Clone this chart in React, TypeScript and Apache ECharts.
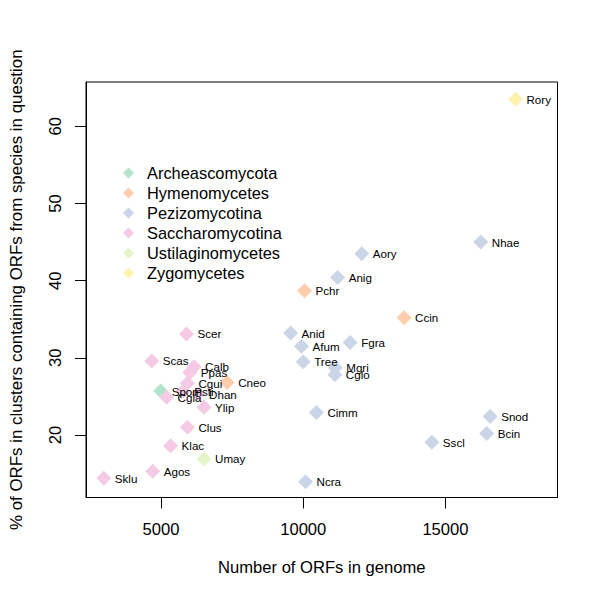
import React, { useEffect, useRef } from "react";
import * as echarts from "echarts";

const groups = [
  "Archeascomycota",
  "Hymenomycetes",
  "Pezizomycotina",
  "Saccharomycotina",
  "Ustilaginomycetes",
  "Zygomycetes",
];
const groupColors = ["#B3E2CD", "#FDCDAC", "#CBD5E8", "#F4CAE4", "#E6F5C9", "#FFF2AE"];

const species = [
  "Spom", "Pchr", "Ccin", "Cneo",
  "Nhae", "Aory", "Anig", "Anid", "Afum", "Fgra", "Tree", "Mgri", "Cglo", "Cimm", "Snod", "Bcin", "Sscl", "Ncra",
  "Scer", "Scas", "Calb", "Ppas", "Cgui", "Psti", "Cgla", "Dhan", "Ylip", "Clus", "Klac", "Agos", "Sklu",
  "Umay", "Rory",
];
const speciesGroup = [
  0, 1, 1, 1,
  2, 2, 2, 2, 2, 2, 2, 2, 2, 2, 2, 2, 2, 2,
  3, 3, 3, 3, 3, 3, 3, 3, 3, 3, 3, 3, 3,
  4, 5,
];
const orfCounts = [
  4986, 10044, 13546, 7323,
  16242, 12056, 11209, 9555, 9939, 11648, 9998, 11125, 11110, 10462, 16573, 16451, 14522, 10079,
  5893, 4672, 6161, 6012, 5928, 5778, 5195, 6301, 6510, 5928, 5335, 4707, 2987,
  6510, 17463,
];
const pctClustered = [
  25.7, 38.7, 35.2, 26.8,
  45.0, 43.5, 40.4, 33.2, 31.5, 32.0, 29.5, 28.7, 27.8, 22.9, 22.4, 20.2, 19.05, 13.95,
  33.1, 29.6, 28.85, 28.1, 26.7, 25.7, 24.9, 25.3, 23.6, 21.0, 18.6, 15.3, 14.4,
  16.9, 63.5,
];
const xTicks = [5000, 10000, 15000];
const yTicks = [20, 30, 40, 50, 60];

const FONT = "Liberation Sans, Arial, Helvetica, sans-serif";

export default function App() {
  const ref = useRef<HTMLDivElement>(null);
  useEffect(() => {
    if (!ref.current) return;
    const chart = echarts.init(ref.current, null, { renderer: "svg" });
    const series = groups.map((g, gi) => ({
      name: g,
      type: "scatter",
      symbol: "diamond",
      symbolSize: 15,
      itemStyle: { color: groupColors[gi], opacity: 1 },
      label: {
        show: true,
        position: "right",
        distance: 3.5,
        color: "#000",
        fontSize: 11.6,
        fontFamily: FONT,
        formatter: (p: any) => p.value[2],
      },
      data: species
        .map((s, i) => ({ s, i }))
        .filter(({ i }) => speciesGroup[i] === gi)
        .map(({ s, i }) => [orfCounts[i], pctClustered[i], s]),
    }));
    chart.setOption({
      animation: false,
      backgroundColor: "#fff",
      grid: {
        left: 82,
        top: 82,
        right: 42.5,
        bottom: 102.5,
        show: true,
        borderColor: "#000",
        borderWidth: 1,
        containLabel: false,
      },
      legend: {
        orient: "vertical",
        left: 118,
        top: 160,
        icon: "diamond",
        itemWidth: 11,
        itemHeight: 11,
        itemGap: 4,
        data: groups,
        textStyle: {
          fontSize: 16.4,
          lineHeight: 16,
          fontFamily: FONT,
          color: "#000",
          padding: [0, 0, 0, 8],
        },
      },
      xAxis: {
        type: "value",
        min: 2360,
        max: 18940,
        name: "Number of ORFs in genome",
        nameLocation: "middle",
        nameGap: 61,
        nameTextStyle: { fontSize: 16.6, fontFamily: FONT, color: "#000" },
        axisLine: { show: true, onZero: false, lineStyle: { color: "#000", width: 1 } },
        axisTick: { show: true, length: 11, customValues: xTicks, lineStyle: { color: "#000" } },
        axisLabel: {
          customValues: xTicks,
          margin: 23,
          fontSize: 16.6,
          fontFamily: FONT,
          color: "#000",
          formatter: (v: number) => String(v),
        },
        splitLine: { show: false },
      },
      yAxis: {
        type: "value",
        min: 11.9,
        max: 65.74,
        name: "% of ORFs in clusters containing ORFs from species in question",
        nameLocation: "middle",
        nameGap: 61,
        nameTextStyle: { fontSize: 16.9, fontFamily: FONT, color: "#000" },
        axisLine: { show: true, onZero: false, lineStyle: { color: "#000", width: 1 } },
        axisTick: { show: true, length: 11, customValues: yTicks, lineStyle: { color: "#000" } },
        axisLabel: {
          customValues: yTicks,
          rotate: 90,
          margin: 22,
          fontSize: 16.6,
          fontFamily: FONT,
          color: "#000",
          formatter: (v: number) => String(v),
        },
        splitLine: { show: false },
      },
      series,
    });
    return () => chart.dispose();
  }, []);
  return (
    <div
      ref={ref}
      style={{ position: "fixed", left: 0, top: 0, width: 600, height: 600 }}
    />
  );
}
